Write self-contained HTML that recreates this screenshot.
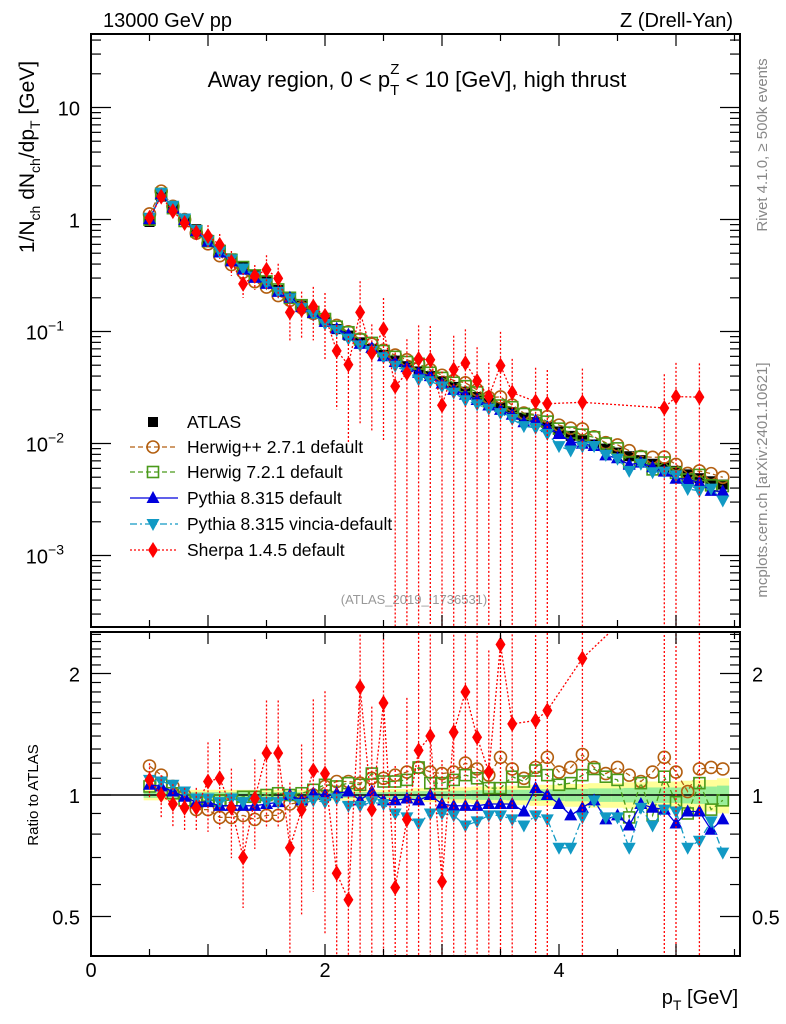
<!DOCTYPE html>
<html><head><meta charset="utf-8"><style>
html,body{margin:0;padding:0;background:#fff;width:786px;height:1024px;overflow:hidden;}
svg{display:block;font-family:"Liberation Sans",Arial,sans-serif;}
</style></head><body>
<svg id="c" width="786" height="1024" viewBox="0 0 786 1024" xmlns="http://www.w3.org/2000/svg">
<rect x="0" y="0" width="786" height="1024" fill="#fff"/>
<text x="103" y="27" font-size="20">13000 GeV pp</text>
<text x="733" y="27" font-size="20" text-anchor="end">Z (Drell-Yan)</text>
<text x="417" y="87" font-size="22" text-anchor="middle">Away region, 0 &lt; p<tspan font-size="15" dy="8">T</tspan><tspan font-size="15" dx="-9" dy="-21">Z</tspan><tspan font-size="22" dy="13"> &lt; 10 [GeV], high thrust</tspan></text>
<text transform="translate(34,157) rotate(-90)" font-size="21" text-anchor="middle">1/N<tspan font-size="14" dy="6">ch</tspan><tspan dy="-6"> dN</tspan><tspan font-size="14" dy="6">ch</tspan><tspan dy="-6">/dp</tspan><tspan font-size="14" dy="6">T</tspan><tspan dy="-6"> [GeV]</tspan></text>
<text transform="translate(38,795) rotate(-90)" font-size="15" text-anchor="middle">Ratio to ATLAS</text>
<text transform="translate(767,145) rotate(-90)" font-size="15" fill="#888" text-anchor="middle">Rivet 4.1.0, ≥ 500k events</text>
<text transform="translate(767,480) rotate(-90)" font-size="15" fill="#888" text-anchor="middle">mcplots.cern.ch [arXiv:2401.10621]</text>
<text x="414" y="604" font-size="13" fill="#999" text-anchor="middle">(ATLAS_2019_I1736531)</text>
<text x="700" y="1004" font-size="20" text-anchor="middle">p<tspan font-size="14" dy="6">T</tspan><tspan dy="-6"> [GeV]</tspan></text>
<g id="plots"></g>
</svg>
<script>
const xs = [0.5,0.6,0.7,0.8,0.9,1.0,1.1,1.2,1.3,1.4,1.5,1.6,1.7,1.8,1.9,2.0,2.1,2.2,2.3,2.4,2.5,2.6,2.7,2.8,2.9,3.0,3.1,3.2,3.3,3.4,3.5,3.6,3.7,3.8,3.9,4.0,4.1,4.2,4.3,4.4,4.5,4.6,4.7,4.8,4.9,5.0,5.1,5.2,5.3,5.4];
const atlas = [0.95,1.6,1.25,1.0,0.82,0.66,0.54,0.45,0.38,0.32,0.28,0.235,0.2,0.17,0.145,0.122,0.105,0.092,0.08,0.07,0.062,0.055,0.049,0.044,0.04,0.036,0.032,0.029,0.026,0.023,0.021,0.019,0.017,0.0155,0.014,0.0128,0.0117,0.0107,0.0098,0.009,0.0083,0.0077,0.0071,0.0066,0.0061,0.0057,0.0053,0.0049,0.0046,0.0043];
const bandErr = [0.03,0.03,0.03,0.03,0.03,0.03,0.03,0.03,0.03,0.03,0.03,0.03,0.03,0.03,0.03,0.03,0.03,0.03,0.03,0.03,0.03,0.035,0.035,0.04,0.04,0.04,0.045,0.045,0.05,0.05,0.05,0.055,0.055,0.06,0.06,0.06,0.065,0.065,0.07,0.07,0.07,0.075,0.075,0.08,0.08,0.08,0.085,0.09,0.09,0.1];
const rHerwigpp = [1.18,1.12,1.05,1.0,0.92,0.92,0.88,0.88,0.89,0.87,0.89,0.89,0.95,0.96,1.0,1.05,1.08,1.08,1.07,1.1,1.1,1.12,1.14,1.17,1.14,1.13,1.14,1.2,1.16,1.12,1.24,1.16,1.1,1.17,1.24,1.14,1.17,1.26,1.17,1.13,1.17,1.12,1.08,1.14,1.24,1.14,1.02,1.16,1.17,1.16];
const rHerwig7 = [1.05,1.06,1.01,0.97,0.96,0.97,0.97,0.97,0.99,0.99,1.0,1.01,1.0,1.01,1.03,1.06,1.05,1.07,1.06,1.13,1.08,1.08,1.09,1.17,1.07,1.07,1.09,1.12,1.1,1.04,1.04,1.11,1.08,1.15,1.12,1.06,1.07,1.12,1.16,1.11,1.09,0.88,1.07,0.89,1.11,0.96,0.9,1.07,0.92,0.97];
const rPythia = [1.06,1.05,1.02,0.99,0.96,0.96,0.94,0.94,0.94,0.94,0.95,0.96,1.0,0.97,1.01,1.0,1.01,1.02,0.97,1.02,0.97,0.97,0.98,0.97,1.0,0.95,0.94,0.94,0.94,0.95,0.95,0.95,0.91,1.04,1.0,0.95,0.89,0.93,0.97,0.87,0.89,0.84,0.95,0.93,0.92,0.85,0.91,0.91,0.82,0.87];
const rVincia = [1.09,1.08,1.06,1.02,0.98,0.98,0.96,0.98,0.96,0.97,0.96,0.96,0.99,0.95,0.97,0.96,0.98,0.94,0.94,0.96,0.95,0.9,0.88,0.85,0.9,0.9,0.89,0.84,0.86,0.89,0.89,0.87,0.84,0.89,0.87,0.74,0.74,0.88,0.97,0.88,0.88,0.74,0.93,0.84,0.92,0.91,0.74,0.77,0.86,0.72];
const rSherpa = [1.09,1.0,0.95,0.93,0.93,1.08,1.1,0.93,0.7,0.98,1.27,1.27,0.74,0.92,1.15,1.13,0.64,0.55,1.85,0.92,1.69,0.59,0.87,1.29,1.4,0.61,1.43,1.8,1.39,1.14,2.36,1.5,null,1.53,1.62,null,null,2.18,null,null,null,null,null,null,3.4,4.6,null,5.3,null,null];
const sherpaErr = [0.1,0.12,0.12,0.12,0.12,0.25,0.25,0.25,0.25,0.25,0.35,0.35,0.45,0.45,0.5,0.6,0.7,0.8,0.9,0.8,0.9,1.0,1.0,1.0,1.0,1.0,1.0,1.0,1.0,1.0,1.0,1.0,1.0,1.0,1.0,1.0,1.0,1.0,1.0,1.0,1.0,1.0,1.0,1.0,1.0,1.0,1.0,1.0,1.0,1.0];
const mainTicks = [1,0,-1,-2,-3];
const mainTickLabels = ["10","1","10","10","10"];
const mainTickExp = ["","","−1","−2","−3"];
const ratioTicks = [2,1,0.5];
const ratioTickLabels = ["2","1","0.5"];
const xTicks = [0,2,4];
const xTickLabels = ["0","2","4"];

const NS="http://www.w3.org/2000/svg";
const L=91,R=740,MT=34,MB=627,RT=632,RB=956;
const X=v=>L+v*117;
const YM=v=>219.5-112*Math.log10(v);
const YR=v=>795-403.6*Math.log10(v);
const root=document.getElementById('plots');
function mk(tag,attrs,parent){const e=document.createElementNS(NS,tag);for(const k in attrs)e.setAttribute(k,attrs[k]);(parent||root).appendChild(e);return e;}

const defs=mk('defs',{});
const c1=mk('clipPath',{id:'cm'},defs);mk('rect',{x:L,y:MT,width:R-L,height:MB-MT},c1);
const c2=mk('clipPath',{id:'cr'},defs);mk('rect',{x:L,y:RT,width:R-L,height:RB-RT},c2);

const gBand=mk('g',{'clip-path':'url(#cr)'});


xs.forEach((x,i)=>{
  const e=bandErr[i];
  mk('rect',{x:X(x-0.05),y:YR(1+e),width:117*0.1+0.5,height:YR(1-e)-YR(1+e),fill:'#ffff99'},gBand);
  mk('rect',{x:X(x-0.05),y:YR(1+e*0.55),width:117*0.1+0.5,height:YR(1-e*0.55)-YR(1+e*0.55),fill:'#99ee99'},gBand);
});
const one=mk('line',{x1:L,x2:R,y1:YR(1),y2:YR(1),stroke:'#000','stroke-width':1.5});



function marker(g,type,cx,cy,col){
  if(type==='sq') mk('rect',{x:cx-5,y:cy-5,width:10,height:10,fill:col},g);
  else if(type==='circ') mk('circle',{cx:cx,cy:cy,r:6,fill:'none',stroke:col,'stroke-width':1.6},g);
  else if(type==='osq') mk('rect',{x:cx-5.5,y:cy-5.5,width:11,height:11,fill:'none',stroke:col,'stroke-width':1.6},g);
  else if(type==='tri') mk('polygon',{points:`${cx},${cy-7} ${cx-6.5},${cy+5} ${cx+6.5},${cy+5}`,fill:col},g);
  else if(type==='itri') mk('polygon',{points:`${cx},${cy+7} ${cx-6.5},${cy-5} ${cx+6.5},${cy-5}`,fill:col},g);
  else if(type==='dia') mk('polygon',{points:`${cx},${cy-8} ${cx-5},${cy} ${cx},${cy+8} ${cx+5},${cy}`,fill:col},g);
}
const series=[
 {name:'herwigpp',r:rHerwigpp,col:'#b35f10',m:'circ',dash:'5,3'},
 {name:'herwig7',r:rHerwig7,col:'#4a9a1a',m:'osq',dash:'5,3'},
 {name:'pythia',r:rPythia,col:'#0000dd',m:'tri',dash:''},
 {name:'vincia',r:rVincia,col:'#1199c4',m:'itri',dash:'7,3,2,3'},
 {name:'sherpa',r:rSherpa,col:'#ff0000',m:'dia',dash:'2,2'}
];
function drawSeries(clip,Y,valFn,tag){
  if(tag==='main'){
    const g=mk('g',{'clip-path':clip});
    
    
    xs.forEach((x,i)=>marker(g,'sq',X(x),Y(atlas[i]),'#000'));
  }
  series.forEach(s=>{
    const g=mk('g',{'clip-path':clip});
    
    
    let d='';let pen=false;
    xs.forEach((x,i)=>{const r=s.r[i];if(r==null){return;}const v=valFn(r,i);d+=(pen?'L':'M')+X(x).toFixed(1)+','+Y(v).toFixed(1);pen=true;});
    mk('path',{d:d,fill:'none',stroke:s.col,'stroke-width':1.3,'stroke-dasharray':s.dash},g);
    if(s.name==='sherpa'){
      xs.forEach((x,i)=>{const r=s.r[i];if(r==null)return;const v=valFn(r,i);const e=sherpaErr[i];
        const hi=v*(1+e), lo=Math.max(v*(1-e),1e-9);
        mk('line',{x1:X(x),x2:X(x),y1:Y(hi),y2:Y(lo),stroke:s.col,'stroke-width':1.3,'stroke-dasharray':'2,2'},g);});
    }
    xs.forEach((x,i)=>{const r=s.r[i];if(r==null)return;marker(g,s.m,X(x),Y(valFn(r,i)),s.col);});
  });
}
drawSeries('url(#cm)',YM,(r,i)=>r*atlas[i],'main');
drawSeries('url(#cr)',YR,(r,i)=>r,'ratio');

function frame(t,b,name){const f=mk('rect',{x:L,y:t,width:R-L,height:b-t,fill:'none',stroke:'#000','stroke-width':2});}
frame(MT,MB,'main-plot-frame');frame(RT,RB,'ratio-plot-frame');
const ax=mk('g',{stroke:'#000','stroke-width':1.2});


for(let v=0;v<=5.5;v+=0.5){const big=Math.abs(v-Math.round(v))<1e-6;const len=big?12:7;
  [[MT,1],[MB,-1],[RT,1],[RB,-1]].forEach(([y,s])=>mk('line',{x1:X(v),x2:X(v),y1:y,y2:y+s*len},ax));}
for(let dec=-4;dec<=1;dec++){for(let k=1;k<10;k++){const v=k*Math.pow(10,dec);const y=YM(v);if(y<MT||y>MB)continue;const len=k===1?20:10;
  mk('line',{x1:L,x2:L+len,y1:y,y2:y},ax);mk('line',{x1:R,x2:R-len,y1:y,y2:y},ax);}}
[0.4,0.5,0.6,0.7,0.8,0.9,1,1.1,1.2,1.3,1.4,1.5,1.6,1.7,1.8,1.9,2,2.1,2.2,2.3,2.4,2.5].forEach(v=>{const y=YR(v);if(y<RT||y>RB)return;const big=(v===0.5||v===1||v===2);const len=big?20:10;
  mk('line',{x1:L,x2:L+len,y1:y,y2:y},ax);mk('line',{x1:R,x2:R-len,y1:y,y2:y},ax);});
mainTicks.forEach((p,i)=>{const t=mk('text',{x:mainTickExp[i]?64:80,y:YM(Math.pow(10,p))+8,'font-size':20,'text-anchor':'end'});
  
  t.textContent=mainTickLabels[i];
  if(mainTickExp[i]){const s=mk('tspan',{'font-size':14,dy:-9},t);s.textContent=mainTickExp[i];}});
ratioTicks.forEach((v,i)=>{[[80,'end'],[752,'start']].forEach(([x,a])=>{const t=mk('text',{x:x,y:YR(v)+8,'font-size':20,'text-anchor':a});
  t.textContent=ratioTickLabels[i];});});
xTicks.forEach((v,i)=>{const t=mk('text',{x:X(v),y:977,'font-size':20,'text-anchor':'middle'});
  t.textContent=xTickLabels[i];});

const lg=mk('g',{});


const legNames=['ATLAS','Herwig++ 2.7.1 default','Herwig 7.2.1 default','Pythia 8.315 default','Pythia 8.315 vincia-default','Sherpa 1.4.5 default'];
const legY=[422,447,472,498,524,550];
legNames.forEach((n,i)=>{const g=mk('g',{},lg);
  
  
  if(i===0){marker(g,'sq',153,legY[i],'#000');}
  else{const s=series[i-1];mk('line',{x1:130,x2:178,y1:legY[i],y2:legY[i],stroke:s.col,'stroke-width':1.3,'stroke-dasharray':s.dash},g);marker(g,s.m,153,legY[i],s.col);}
  const t=mk('text',{x:187,y:legY[i]+6,'font-size':17.5},g);t.textContent=n;});
</script>
</body></html>
